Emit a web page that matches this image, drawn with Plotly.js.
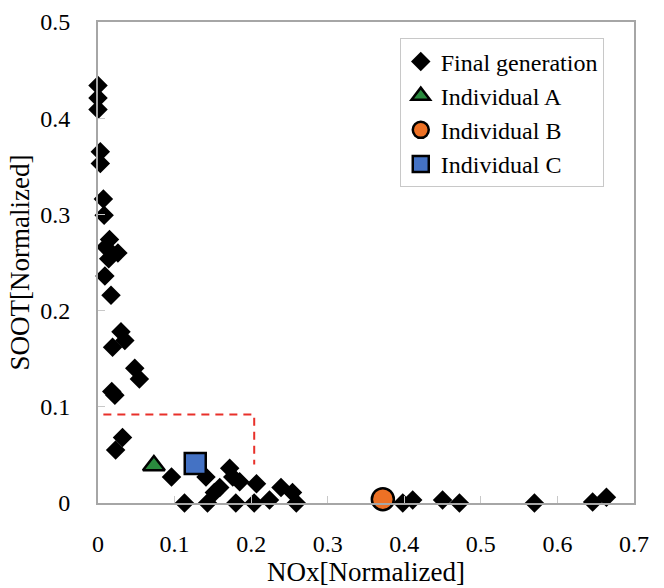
<!DOCTYPE html>
<html>
<head>
<meta charset="utf-8">
<script src="https://cdn.plot.ly/plotly-3.0.1.min.js"></script>
<style>html,body{margin:0;padding:0;background:#fff;}#chart{width:664px;height:588px;}</style>
</head>
<body>
<div id="chart"></div>
<script>
var finalNOx = [0.000, 0.000, 0.000, 0.003, 0.003, 0.007, 0.008, 0.015, 0.010, 0.026, 0.014, 0.009, 0.017,
  0.030, 0.035, 0.019, 0.048, 0.054, 0.018, 0.022, 0.032, 0.023, 0.096, 0.141, 0.113,
  0.172, 0.176, 0.185, 0.159, 0.152, 0.143, 0.180, 0.207, 0.204, 0.224, 0.239, 0.254, 0.259,
  0.398, 0.411, 0.450, 0.472, 0.570, 0.646, 0.664];
var finalSOOT = [0.434, 0.421, 0.409, 0.365, 0.353, 0.316, 0.299, 0.274, 0.266, 0.260, 0.254, 0.236, 0.216,
  0.178, 0.169, 0.162, 0.140, 0.129, 0.116, 0.112, 0.068, 0.055, 0.027, 0.027, 0.000,
  0.036, 0.027, 0.022, 0.016, 0.011, 0.000, 0.000, 0.020, 0.000, 0.003, 0.016, 0.011, 0.000,
  0.000, 0.003, 0.003, 0.000, 0.000, 0.001, 0.006];
var indA = {nox: [0.073], soot: [0.039]};
var indB = {nox: [0.372], soot: [0.004]};
var indC = {nox: [0.127], soot: [0.041]};
var boxNOx = [0.007, 0.204, 0.204];
var boxSOOT = [0.092, 0.092, 0.040];
var xTicks = [0, 0.1, 0.2, 0.3, 0.4, 0.5, 0.6, 0.7];
var xTickText = ['0', '0.1', '0.2', '0.3', '0.4', '0.5', '0.6', '0.7'];
var yTicks = [0, 0.1, 0.2, 0.3, 0.4, 0.5];
var yTickText = ['0', '0.1', '0.2', '0.3', '0.4', '0.5'];

var serif = '"Liberation Serif", "DejaVu Serif", serif';
var traces = [
  {x: boxNOx, y: boxSOOT, mode: 'lines', showlegend: false, hoverinfo: 'skip',
   line: {color: '#e8302a', width: 2, dash: '8px,6px'}},
  {x: finalNOx, y: finalSOOT, mode: 'markers', name: 'Final generation', cliponaxis: false,
   marker: {symbol: 'diamond', size: 15, color: '#000000'}},
  {x: indA.nox, y: indA.soot, mode: 'markers', name: 'Individual A', cliponaxis: false,
   marker: {symbol: 'triangle-up', size: 19, color: '#2a8a3e', line: {color: '#000', width: 2.5}}},
  {x: indB.nox, y: indB.soot, mode: 'markers', name: 'Individual B', cliponaxis: false,
   marker: {symbol: 'circle', size: 22, color: '#ed7125', line: {color: '#000', width: 2.5}}},
  {x: indC.nox, y: indC.soot, mode: 'markers', name: 'Individual C', cliponaxis: false,
   marker: {symbol: 'square', size: 21, color: '#4472c4', line: {color: '#000', width: 2.5}}}
];
var layout = {
  width: 664, height: 588,
  margin: {l: 98, r: 30, t: 22, b: 85},
  paper_bgcolor: '#fff', plot_bgcolor: '#fff',
  font: {family: serif, size: 24, color: '#000'},
  showlegend: true,
  legend: {x: 0.563, y: 0.966, xanchor: 'left', yanchor: 'top',
    bgcolor: '#fff', bordercolor: '#c8c8c8', borderwidth: 1,
    font: {family: serif, size: 24, color: '#000'}, tracegroupgap: 0, itemwidth: 30},
  xaxis: {range: [0, 0.7], tickvals: xTicks, ticktext: xTickText,
    showline: true, mirror: true, linecolor: '#a6a6a6', linewidth: 2,
    ticks: 'inside', ticklen: 7, tickcolor: '#c8c8c8', tickwidth: 1,
    showgrid: false, zeroline: false, fixedrange: true, ticklabelstandoff: 18,
    automargin: false,
    tickfont: {family: serif, size: 24, color: '#000'},
    title: {text: 'NOx[Normalized]', font: {family: serif, size: 27, color: '#000'}, standoff: 4}},
  yaxis: {range: [0, 0.5], tickvals: yTicks, ticktext: yTickText,
    showline: true, mirror: true, linecolor: '#a6a6a6', linewidth: 2,
    ticks: 'inside', ticklen: 7, tickcolor: '#c8c8c8', tickwidth: 1,
    showgrid: false, zeroline: false, fixedrange: true, ticklabelstandoff: 21,
    automargin: false,
    tickfont: {family: serif, size: 24, color: '#000'},
    title: {text: 'SOOT[Normalized]', font: {family: serif, size: 27, color: '#000'}, standoff: 3}}
};
Plotly.newPlot('chart', traces, layout, {displayModeBar: false, staticPlot: true});
</script>
</body>
</html>
